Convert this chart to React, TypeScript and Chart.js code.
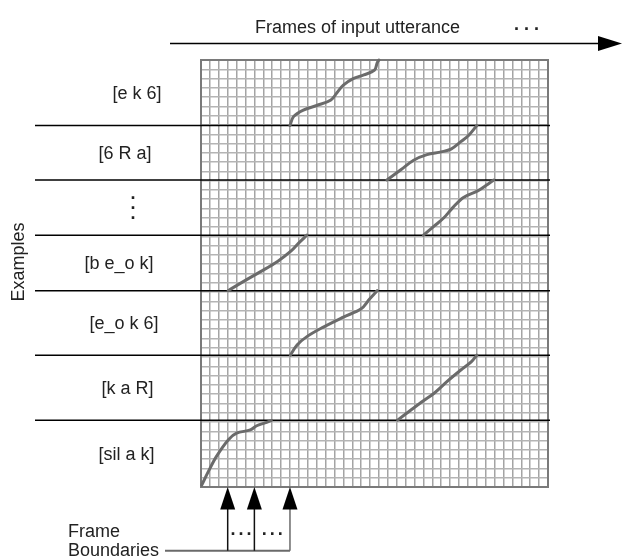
import { useEffect, useRef } from "react";
import { Chart, registerables } from "chart.js";

Chart.register(...registerables);

// ---------- data ----------
const GRID_COLS = 39;
const GRID_ROWS = 46;

const EXAMPLE_LABELS = ["[e k 6]", "[6 R a]", "⋮", "[b e_o k]", "[e_o k 6]", "[k a R]", "[sil a k]"];
// band boundaries (grid rows, counted from the bottom)
const BAND_EDGES = [46, 38.94, 33.07, 27.13, 21.15, 14.2, 7.2, 0];

const X_TITLE = "Frames of input utterance";
const Y_TITLE = "Examples";
const BOUNDARY_TITLE = ["Frame", "Boundaries"];
const BOUNDARY_COLS = [3, 6, 10];

const CURVE_EK6 = [
  { x: 10.0, y: 38.94 }, { x: 10.4, y: 39.9 }, { x: 11.5, y: 40.6 }, { x: 13.0, y: 41.1 },
  { x: 14.6, y: 41.7 }, { x: 15.3, y: 42.5 }, { x: 16.0, y: 43.3 }, { x: 17.1, y: 44.0 },
  { x: 18.3, y: 44.4 }, { x: 19.5, y: 44.9 }, { x: 19.8, y: 45.7 }, { x: 20.0, y: 46 },
];
const CURVE_6RA = [
  { x: 20.9, y: 33.07 }, { x: 22.5, y: 34.2 }, { x: 23.9, y: 35.2 }, { x: 25.4, y: 35.8 },
  { x: 27.0, y: 36.1 }, { x: 28.1, y: 36.4 }, { x: 29.2, y: 37.2 }, { x: 30.1, y: 37.9 },
  { x: 31.0, y: 38.94 },
];
const CURVE_DOTS = [
  { x: 25.0, y: 27.13 }, { x: 26.2, y: 28.1 }, { x: 27.3, y: 29.0 }, { x: 28.3, y: 30.1 },
  { x: 29.5, y: 31.2 }, { x: 31.1, y: 31.9 }, { x: 32.2, y: 32.6 }, { x: 32.9, y: 33.07 },
];
const CURVE_BEOK = [
  { x: 3.05, y: 21.15 }, { x: 4.7, y: 22.1 }, { x: 6.7, y: 23.2 }, { x: 8.6, y: 24.3 },
  { x: 10.1, y: 25.4 }, { x: 11.0, y: 26.3 }, { x: 11.9, y: 27.13 },
];
const CURVE_EOK6 = [
  { x: 10.05, y: 14.2 }, { x: 10.8, y: 15.3 }, { x: 11.9, y: 16.2 }, { x: 13.7, y: 17.2 },
  { x: 16.0, y: 18.3 }, { x: 18.0, y: 19.2 }, { x: 18.9, y: 20.2 }, { x: 19.8, y: 21.15 },
];
const CURVE_KAR = [
  { x: 22.1, y: 7.2 }, { x: 23.6, y: 8.3 }, { x: 25.0, y: 9.3 }, { x: 26.2, y: 10.1 },
  { x: 27.7, y: 11.4 }, { x: 29.2, y: 12.6 }, { x: 30.4, y: 13.5 }, { x: 31.0, y: 14.2 },
];
const CURVE_SILAK = [
  { x: 0.08, y: 0.2 }, { x: 0.82, y: 1.65 }, { x: 1.74, y: 3.3 }, { x: 3.08, y: 5.1 },
  { x: 4.0, y: 5.8 }, { x: 5.54, y: 6.15 }, { x: 6.26, y: 6.6 }, { x: 7.18, y: 6.9 },
  { x: 7.9, y: 7.15 },
];
const CURVES = [CURVE_EK6, CURVE_6RA, CURVE_DOTS, CURVE_BEOK, CURVE_EOK6, CURVE_KAR, CURVE_SILAK];

// ---------- layout / style ----------
const W = 622;
const H = 558;
const FONT = '18px "Liberation Sans", Arial, sans-serif';
const BOLD_FONT = 'bold 18px "Liberation Sans", Arial, sans-serif';
const TEXT_COLOR = "#222";
const LABEL_CENTER_X = [137, 125, 133, 119, 124, 127.5, 126.5];
const SEPARATOR_LEFT = 35;

const diagramPlugin = {
  id: "diagram",
  beforeDatasetsDraw(chart: any) {
    const { ctx, chartArea, scales } = chart;
    const ys = scales.y;
    ctx.save();
    // grid border
    ctx.strokeStyle = "#7a7a7a";
    ctx.lineWidth = 2;
    ctx.strokeRect(chartArea.left, chartArea.top, chartArea.right - chartArea.left, chartArea.bottom - chartArea.top);
    // band separators
    ctx.strokeStyle = "#000";
    ctx.lineWidth = 1.5;
    BAND_EDGES.slice(1, -1).forEach((v) => {
      const py = ys.getPixelForValue(v);
      ctx.beginPath();
      ctx.moveTo(SEPARATOR_LEFT, py);
      ctx.lineTo(chartArea.right + 2, py);
      ctx.stroke();
    });
    // example labels
    ctx.fillStyle = TEXT_COLOR;
    ctx.textAlign = "center";
    ctx.textBaseline = "alphabetic";
    EXAMPLE_LABELS.forEach((lab, i) => {
      const cy = (ys.getPixelForValue(BAND_EDGES[i]) + ys.getPixelForValue(BAND_EDGES[i + 1])) / 2;
      const cx = LABEL_CENTER_X[i];
      if (lab === "⋮") {
        ctx.font = BOLD_FONT;
        [-10, 0, 10].forEach((d) => ctx.fillText(".", cx, cy + d + 1.5));
      } else {
        ctx.font = FONT;
        ctx.fillText(lab, cx, cy + 6.5);
      }
    });
    ctx.restore();
  },
  afterDraw(chart: any) {
    const { ctx, chartArea, scales } = chart;
    const xs = scales.x;
    ctx.save();
    ctx.fillStyle = TEXT_COLOR;
    ctx.font = FONT;
    ctx.textBaseline = "alphabetic";
    // top arrow + title
    ctx.textAlign = "left";
    ctx.fillText(X_TITLE, 255, 32.5);
    ctx.font = BOLD_FONT;
    ctx.textAlign = "center";
    [516.5, 526.5, 536.5].forEach((dx) => ctx.fillText(".", dx, 30));
    ctx.strokeStyle = "#000";
    ctx.fillStyle = "#000";
    ctx.lineWidth = 1.5;
    ctx.beginPath();
    ctx.moveTo(170, 43.5);
    ctx.lineTo(600, 43.5);
    ctx.stroke();
    ctx.beginPath();
    ctx.moveTo(622, 43.5);
    ctx.lineTo(598, 36);
    ctx.lineTo(598, 51);
    ctx.closePath();
    ctx.fill();

    // y title
    ctx.save();
    ctx.translate(23.5, 262);
    ctx.rotate(-Math.PI / 2);
    ctx.fillStyle = TEXT_COLOR;
    ctx.font = FONT;
    ctx.textAlign = "center";
    ctx.fillText(Y_TITLE, 0, 0);
    ctx.restore();

    // frame boundaries arrows
    const baseY = 550.7;
    const tipY = chartArea.bottom;
    const arrowXs = BOUNDARY_COLS.map((c) => xs.getPixelForValue(c));
    ctx.strokeStyle = "#6a6a6a";
    ctx.lineWidth = 2;
    ctx.beginPath();
    ctx.moveTo(165, baseY);
    ctx.lineTo(arrowXs[arrowXs.length - 1], baseY);
    ctx.stroke();
    arrowXs.forEach((ax, i) => {
      ctx.strokeStyle = i === arrowXs.length - 1 ? "#6a6a6a" : "#111";
      ctx.lineWidth = 1.5;
      ctx.beginPath();
      ctx.moveTo(ax, baseY);
      ctx.lineTo(ax, tipY + 20);
      ctx.stroke();
      ctx.fillStyle = "#000";
      ctx.beginPath();
      ctx.moveTo(ax, tipY);
      ctx.lineTo(ax - 7.5, tipY + 22.5);
      ctx.lineTo(ax + 7.5, tipY + 22.5);
      ctx.closePath();
      ctx.fill();
    });
    // dots between arrows
    ctx.fillStyle = TEXT_COLOR;
    ctx.font = BOLD_FONT;
    ctx.textAlign = "center";
    for (let i = 0; i < arrowXs.length - 1; i++) {
      const mid = (arrowXs[i] + arrowXs[i + 1]) / 2;
      [-8, 0, 8].forEach((d) => ctx.fillText(".", mid + d, 535));
    }
    // boundary label
    ctx.font = FONT;
    ctx.textAlign = "left";
    ctx.fillText(BOUNDARY_TITLE[0], 68, 537);
    ctx.fillText(BOUNDARY_TITLE[1], 68, 556);
    ctx.restore();
  },
};

export default function App() {
  const canvasRef = useRef<HTMLCanvasElement | null>(null);

  useEffect(() => {
    const canvas = canvasRef.current;
    if (!canvas) return;
    const chart = new Chart(canvas, {
      type: "line",
      data: {
        datasets: CURVES.map((pts, i) => ({
          label: EXAMPLE_LABELS[i],
          data: pts,
          borderColor: "#6b6b6b",
          borderWidth: 3,
          pointRadius: 0,
          tension: 0.35,
          fill: false,
          clip: false as any,
          borderCapStyle: "round" as const,
        })),
      },
      options: {
        responsive: false,
        animation: false,
        devicePixelRatio: 1,
        layout: { padding: { left: 201, top: 60, right: 74, bottom: 71 } },
        plugins: { legend: { display: false }, tooltip: { enabled: false } },
        scales: {
          x: {
            type: "linear",
            min: 0,
            max: GRID_COLS,
            ticks: { display: false, stepSize: 1 },
            grid: { color: "#a4a4a4", lineWidth: 1.5, drawTicks: false },
            border: { display: false },
          },
          y: {
            type: "linear",
            min: 0,
            max: GRID_ROWS,
            ticks: { display: false, stepSize: 1 },
            grid: { color: "#b4b4b4", lineWidth: 1.5, drawTicks: false },
            border: { display: false },
          },
        },
      },
      plugins: [diagramPlugin],
    });
    return () => chart.destroy();
  }, []);

  return (
    <div style={{ position: "absolute", left: 0, top: 0, width: W, height: H, background: "#fff" }}>
      <canvas ref={canvasRef} width={W} height={H} style={{ width: W, height: H, display: "block" }} />
    </div>
  );
}
